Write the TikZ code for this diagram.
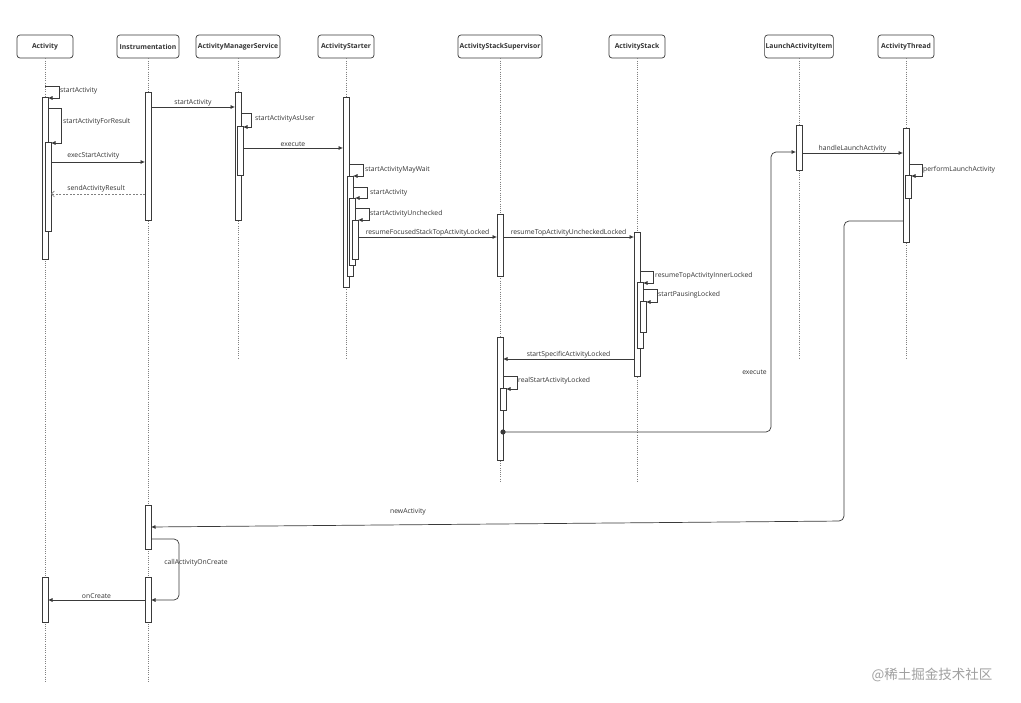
\documentclass[tikz,border=0pt]{standalone}
\usepackage{fontspec}
\setmainfont{Open Sans}
\newfontfamily\cjkfont{Noto Sans CJK SC}
\usetikzlibrary{arrows.meta}
\definecolor{ln}{HTML}{3A3A3A}
\definecolor{lbl}{HTML}{333333}
\definecolor{wm}{HTML}{A0A0A0}
\newcommand\abar[4]{%
  \pgfmathsetmacro\tmpc{(#3+#4)/2}%
  \pgfmathsetmacro\tmph{#4-#3}%
  \node[actb, minimum height=\tmph pt] (#1) at (#2,\tmpc) {};}
\begin{document}
\begin{tikzpicture}[x=1pt,y=-1pt,
  every node/.style={font=\fontsize{6.8}{8}\selectfont, text=lbl},
  head/.style={draw=ln, line width=0.7pt, rounded corners=3pt, minimum height=23pt, inner sep=1pt, font=\fontsize{6.8}{8}\selectfont\bfseries},
  actb/.style={draw=ln, fill=white, line width=0.7pt, minimum width=6pt, inner sep=0pt, outer sep=0pt},
  lifeline/.style={draw=gray, line width=0.6pt, dash pattern=on 1pt off 1.2pt},
  msg/.style={draw=ln, line width=0.7pt, -{Latex[length=4.5pt,width=4pt]}},
  ret/.style={draw=gray, line width=0.7pt, dash pattern=on 2pt off 1.5pt, -{Straight Barb[length=3pt,width=6pt]}},
  lab/.style={inner sep=1pt, anchor=south},
  llab/.style={inner sep=1pt, anchor=west},
]
\useasboundingbox (0,0) rectangle (1021,703);
\fill[white] (0,0) rectangle (1021,703);

% headers
\node[head, minimum width=56pt] (h1) at (45,46.5) {Activity};
\node[head, minimum width=62pt] (h2) at (148,46.5) {Instrumentation};
\node[head, minimum width=84pt] (h3) at (238,46.5) {ActivityManagerService};
\node[head, minimum width=56pt] (h4) at (346,46.5) {ActivityStarter};
\node[head, minimum width=84pt] (h5) at (500,46.5) {ActivityStackSupervisor};
\node[head, minimum width=56pt] (h6) at (637,46.5) {ActivityStack};
\node[head, minimum width=67pt] (h7) at (799,46.5) {LaunchActivityItem};
\node[head, minimum width=56pt] (h8) at (906,46.5) {ActivityThread};

% lifelines
\draw[lifeline] (h1.south) -- (h1.south |- 0,683);
\draw[lifeline] (h2.south) -- (h2.south |- 0,683);
\draw[lifeline] (h3.south) -- (h3.south |- 0,358);
\draw[lifeline] (h4.south) -- (h4.south |- 0,358);
\draw[lifeline] (h5.south) -- (h5.south |- 0,481);
\draw[lifeline] (h6.south) -- (h6.south |- 0,481);
\draw[lifeline] (h7.south) -- (h7.south |- 0,358);
\draw[lifeline] (h8.south) -- (h8.south |- 0,358);

% activation bars
\abar{a1}{45}{97}{259}
\abar{a2}{48}{142}{231}
\abar{a3}{45}{577}{622}
\abar{i1}{148}{92}{220}
\abar{i3}{148}{505}{549}
\abar{i4}{148}{577}{622}
\abar{m1}{238}{92}{220}
\abar{m2}{240}{126}{175}
\abar{s1}{346}{97}{287}
\abar{s2}{350}{176}{276}
\abar{s3}{352}{198}{265}
\abar{s4}{355}{220}{259}
\abar{v1}{500}{214}{276}
\abar{v2}{500}{337}{460}
\abar{v3}{503}{388}{410}
\abar{k1}{637}{232}{376}
\abar{k2}{640}{282}{348}
\abar{k3}{643}{301}{332}
\abar{l1}{799}{125}{170}
\abar{t1}{906}{128}{242}
\abar{t2}{908}{175}{198}

% messages
\draw[msg] (h1 |- 0,86) -- ++(14,0) |- (a1.east |- 0,98);
\node[llab] at (59,91) {startActivity};
\draw[msg] (a1.east |- 0,108) -- ++(13,0) |- (a2.east |- 0,143);
\node[llab] at (62,122) {startActivityForResult};
\draw[msg] (a2.east |- 0,162) -- (i1.west |- 0,162) node[lab, pos=0.45, yshift=2pt] {execStartActivity};
\draw[ret] (i1.west |- 0,194) -- (a2.east |- 0,194) node[lab, pos=0.52, yshift=1pt] {sendActivityResult};
\draw[msg] (i1.east |- 0,107) -- (m1.west |- 0,107) node[lab, midway] {startActivity};
\draw[msg] (m1.east |- 0,113) -- ++(10,0) |- (m2.east |- 0,127);
\node[llab] at (254,119) {startActivityAsUser};
\draw[msg] (m2.east |- 0,148) -- (s1.west |- 0,148) node[lab, midway] {execute};
\draw[msg] (s1.east |- 0,164) -- ++(14,0) |- (s2.east |- 0,176);
\node[llab] at (364,170) {startActivityMayWait};
\draw[msg] (s2.east |- 0,187) -- ++(14,0) |- (s3.east |- 0,198);
\node[llab] at (369,193) {startActivity};
\draw[msg] (s3.east |- 0,208) -- ++(14,0) |- (s4.east |- 0,220);
\node[llab] at (369,214) {startActivityUnchecked};
\draw[msg] (s4.east |- 0,237) -- (v1.west |- 0,237) node[lab, midway] {resumeFocusedStackTopActivityLocked};
\draw[msg] (v1.east |- 0,237) -- (k1.west |- 0,237) node[lab, midway] {resumeTopActivityUncheckedLocked};
\draw[msg] (k1.east |- 0,271) -- ++(13,0) |- (k2.east |- 0,283);
\node[llab] at (654,276) {resumeTopActivityInnerLocked};
\draw[msg] (k2.east |- 0,289) -- ++(14,0) |- (k3.east |- 0,302);
\node[llab] at (657,295) {startPausingLocked};
\draw[msg] (k1.west |- 0,359) -- (v2.east |- 0,359) node[lab, midway] {startSpecificActivityLocked};
\draw[msg] (v2.east |- 0,376) -- ++(14,0) |- (v3.east |- 0,389);
\node[llab] at (517,381) {realStartActivityLocked};
\fill[ln] (v2.east |- 0,432) circle (2.6pt);
\draw[msg, rounded corners=5pt] (v2.east |- 0,432) -| (771,152) -- (l1.west |- 0,152);
\node[inner sep=1pt, anchor=east] at (768,372) {execute};
\draw[msg] (l1.east |- 0,153) -- (t1.west |- 0,153) node[lab, midway] {handleLaunchActivity};
\draw[msg] (t1.east |- 0,164) -- ++(13,0) |- (t2.east |- 0,176);
\node[llab] at (922,170) {performLaunchActivity};
\draw[msg, rounded corners=5pt] (t1.west |- 0,221) -- (844,221) -- (844,521) -- (i3.east |- 0,527);
\node[inner sep=1pt] at (408,512) {newActivity};
\draw[msg, rounded corners=5pt] (i3.east |- 0,539) -- ++(28,0) |- (i4.east |- 0,600);
\node[inner sep=1pt] at (196,563) {callActivityOnCreate};
\draw[msg] (i4.west |- 0,600) -- (a3.east |- 0,600) node[lab, midway] {onCreate};

% watermark
\node[text=wm, font=\cjkfont\fontsize{13.5}{15}\selectfont, inner sep=0pt] (wmk) at (932,675) {@稀土掘金技术社区};
\end{tikzpicture}
\end{document}
